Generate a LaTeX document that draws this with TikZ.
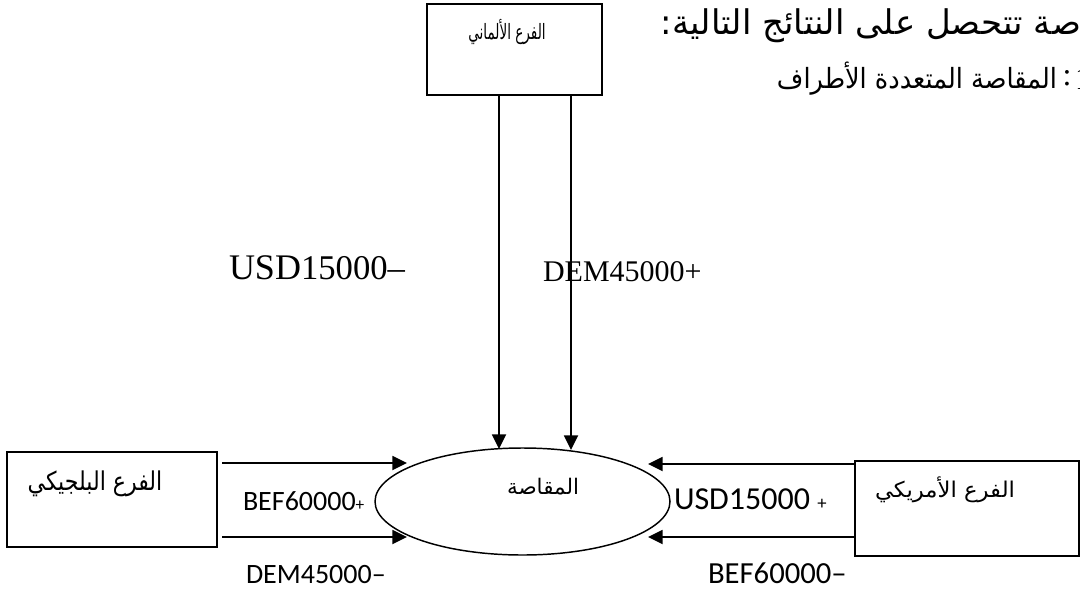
\documentclass[tikz,border=0pt]{standalone}
\usepackage{graphicx}
\usepackage{fontspec}
\setmainfont{Liberation Serif}
\newfontfamily\calfont{Carlito}
\newfontfamily\arabicfont[Script=Arabic]{DejaVu Sans}
\TeXXeTstate=1
\usetikzlibrary{arrows.meta,shapes.geometric}
\newcommand\artext[3]{\resizebox*{#1}{#2}{\arabicfont\beginR #3\endR}}
\begin{document}
\begin{tikzpicture}[x=0.75pt,y=-0.75pt,
  boxnode/.style={draw,rectangle,line width=1.4pt,inner sep=0pt,outer sep=0pt},
  ellnode/.style={draw,ellipse,line width=1.1pt,inner sep=0pt,outer sep=0pt},
  arr/.style={line width=1.4pt,-{Triangle[length=11pt,width=10.5pt]}},
  lbl/.style={inner sep=0pt,outer sep=0pt},
  calib/.style={lbl,anchor=west,font=\calfont},
  tms/.style={lbl,anchor=west}
]
\fill[white] (0,0) rectangle (1080,596);
\useasboundingbox (0,0) rectangle (1080,596);

% boxes
\node[boxnode,minimum width=131.25pt,minimum height=68.25pt] (gbox) at (514.5,49.5) {};
\node[boxnode,minimum width=157.5pt,minimum height=71.25pt] (bbox) at (112,499.5) {};
\node[boxnode,minimum width=168pt,minimum height=71.25pt] (abox) at (967,508.5) {};
\node[ellnode,minimum width=221.25pt,minimum height=80.25pt] (ell) at (522.5,501.5) {};

% box texts
\node[lbl] (gtext) at (507,32) {\artext{58pt}{19pt}{الفرع الألماني}};
\node[lbl] (btext) at (95,484) {\artext{101pt}{19.5pt}{الفرع البلجيكي}};
\node[lbl] (atext) at (945,490) {\artext{105pt}{19.5pt}{الفرع الأمريكي}};
\node[lbl] (etext) at (543,487) {\artext{54pt}{!}{المقاصة}};

% top right text
\node[lbl,anchor=east] (line1) at (1081,26) {\artext{315pt}{!}{صة تتحصل على النتائج التالية:}};
\node[lbl,anchor=east] (line2) at (1057,79) {\artext{210pt}{25pt}{المقاصة المتعددة الأطراف}};
\node[lbl,font=\fontsize{24}{28}\selectfont] (colon) at (1067,78) {:};
\node[lbl,anchor=west,font=\fontsize{24}{28}\selectfont] (one) at (1075,79) {1};

% arrow end points
\coordinate (tV1) at (499,449);
\coordinate (tV2) at (571,450);
\coordinate (sL1) at (222,463);
\coordinate (tL1) at (407,463);
\coordinate (sL2) at (222,537);
\coordinate (tL2) at (407,537);
\coordinate (tR1) at (648,464);
\coordinate (tR2) at (648,537);

\draw[arr] (gbox.south -| tV1) -- (tV1);
\draw[arr] (gbox.south -| tV2) -- (tV2);
\draw[arr] (sL1) -- (tL1);
\draw[arr] (sL2) -- (tL2);
\draw[arr] (abox.west |- tR1) -- (tR1);
\draw[arr] (abox.west |- tR2) -- (tR2);

% amounts
\node[tms] (usdm) at (229,268) {\fontsize{27}{31}\selectfont USD\fontsize{26}{30}\selectfont 15000–};
\node[tms,font=\fontsize{22.5}{27}\selectfont] (demp) at (543,272) {DEM45000+};
\node[calib] (befp) at (243,501) {\fontsize{21}{25}\selectfont BEF60000{\fontsize{13}{15}\selectfont +}};
\node[calib] (demm) at (246,575) {\fontsize{21}{25}\selectfont DEM45000–};
\node[calib] (usdp) at (674,499) {\fontsize{24}{28}\selectfont USD15000 {\fontsize{14}{16}\selectfont +}};
\node[calib] (befm) at (708,573) {\fontsize{23}{27}\selectfont BEF60000–};
\end{tikzpicture}
\end{document}
